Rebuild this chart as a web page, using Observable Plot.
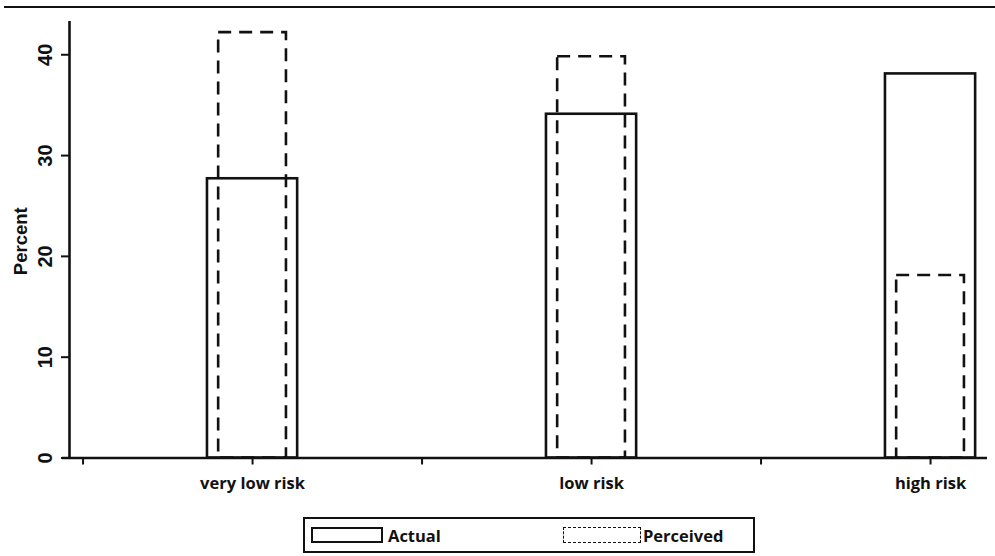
<!DOCTYPE html>
<html>
<head>
<meta charset="utf-8">
<script src="https://cdn.jsdelivr.net/npm/d3@7"></script>
<script src="https://cdn.jsdelivr.net/npm/@observablehq/plot@0.6"></script>
<style>
  html, body { margin: 0; padding: 0; background: #fff; }
  #wrap { position: relative; width: 995px; height: 556px; overflow: hidden; background: #fff; }
  #chart { position: absolute; left: 0; top: 0; }
  #topline { position: absolute; left: 4px; top: 6px; width: 991px; height: 0; border-top: 2.5px solid #111; z-index: 2; }
  #legend { position: absolute; left: 303px; top: 517px; width: 448px; height: 32px; border: 2.5px solid #111; box-sizing: content-box; font-family: "Open Sans", sans-serif; font-weight: 700; font-size: 16.5px; color: #111; }
  .sw { position: absolute; top: 8px; height: 16px; box-sizing: border-box; }
  .lab { position: absolute; top: 6px; line-height: 22px; }
</style>
</head>
<body>
<div id="wrap">
  <div id="chart"></div>
  <div id="topline"></div>
  <div id="legend"></div>
</div>
<script>
const categories = ["very low risk", "low risk", "high risk"];
const actual = [27.7, 34.1, 38.1];
const perceived = [42.2, 39.8, 18.1];
const yTicks = [0, 10, 20, 30, 40];
const xTicks = [0.5, 1, 1.5, 2, 2.5, 3];
const seriesNames = ["Actual", "Perceived"];
const yLabel = "Percent";

const rows = categories.map((c, i) => ({cat: c, pos: i + 1, actual: actual[i], perceived: perceived[i]}));
const xMin = 0.46, xMax = 3.168, yMax = 43.3;
const wA = 0.133, wP = 0.1;
const tickFont = "Liberation Sans, Arial, sans-serif";

const plot = Plot.plot({
  width: 995,
  height: 505,
  marginLeft: 69,
  marginRight: 8,
  marginTop: 21,
  marginBottom: 47.5,
  x: {type: "linear", domain: [xMin, xMax]},
  y: {domain: [0, yMax]},
  style: {background: "white", color: "#111"},
  marks: [
    Plot.rectY(rows, {x1: d => d.pos - wA, x2: d => d.pos + wA, y: "actual", fill: "none", stroke: "#111", strokeWidth: 2.6}),
    Plot.rectY(rows, {x1: d => d.pos - wP, x2: d => d.pos + wP, y: "perceived", fill: "none", stroke: "#111", strokeWidth: 2.6, strokeDasharray: "13,8"}),
    Plot.ruleX([xMin], {stroke: "#111", strokeWidth: 2.6}),
    Plot.ruleY([0], {stroke: "#111", strokeWidth: 2.6, insetLeft: -7}),
    Plot.axisY({ticks: yTicks, tickSize: 8, tickFormat: () => "", label: null, strokeWidth: 2}),
    Plot.text(yTicks, {x: () => xMin, y: d => d, text: d => String(d), rotate: -90, dx: -24, fontFamily: tickFont, fontWeight: 700, fontSize: 20, fill: "#111"}),
    Plot.text([yLabel], {x: () => xMin, y: () => 21.5, text: d => d, rotate: -90, dx: -48, fontFamily: tickFont, fontWeight: 700, fontSize: 18.5, fill: "#111"}),
    Plot.axisX({ticks: xTicks, tickSize: 7, tickPadding: 12, strokeWidth: 2, label: null,
      tickFormat: d => Number.isInteger(d) ? categories[d - 1] : "",
      fontFamily: "Open Sans, sans-serif", fontWeight: 700, fontSize: 16.5})
  ]
});
document.getElementById("chart").appendChild(plot);

const lg = document.getElementById("legend");
lg.innerHTML = `
  <div class="sw" style="left:6px;width:72px;border:2.5px solid #111"></div>
  <div class="lab" style="left:83px">${seriesNames[0]}</div>
  <div class="sw" style="left:258px;width:78px;border:1.5px dashed #111"></div>
  <div class="lab" style="left:338px">${seriesNames[1]}</div>`;
</script>
</body>
</html>
